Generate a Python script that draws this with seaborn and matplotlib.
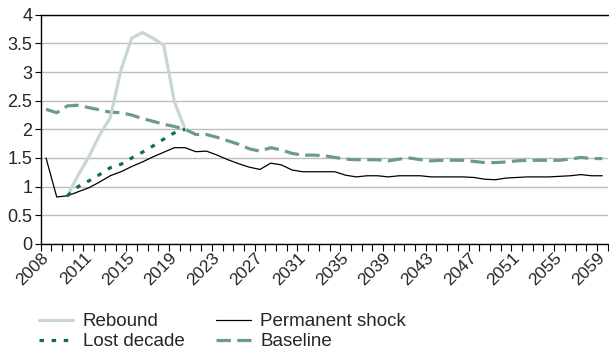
import numpy as np
import pandas as pd
import matplotlib
matplotlib.use("Agg")
import matplotlib.pyplot as plt
import seaborn as sns

# Category labels (every 4th position is labelled on the axis)
tick_labels = ["2008", "2011", "2015", "2019", "2023", "2027", "2031",
               "2035", "2039", "2043", "2047", "2051", "2055", "2059"]
n_points = 53

baseline = [2.35, 2.29, 2.41, 2.42, 2.38, 2.34, 2.30, 2.29, 2.25, 2.19,
            2.14, 2.09, 2.05, 2.00, 1.91, 1.91, 1.86, 1.80, 1.74, 1.66,
            1.62, 1.68, 1.64, 1.58, 1.55, 1.55, 1.54, 1.51, 1.48, 1.47,
            1.47, 1.47, 1.45, 1.48, 1.50, 1.47, 1.45, 1.46, 1.46, 1.46,
            1.44, 1.42, 1.42, 1.43, 1.45, 1.46, 1.46, 1.46, 1.46, 1.48,
            1.51, 1.49, 1.49]

permanent_shock = [1.50, 0.82, 0.84, 0.91, 0.98, 1.08, 1.19, 1.26, 1.35, 1.43,
                   1.52, 1.60, 1.68, 1.68, 1.61, 1.62, 1.55, 1.47, 1.40, 1.34,
                   1.30, 1.41, 1.38, 1.29, 1.26, 1.26, 1.26, 1.26, 1.20, 1.17,
                   1.19, 1.19, 1.17, 1.19, 1.19, 1.19, 1.17, 1.17, 1.17, 1.17,
                   1.16, 1.13, 1.12, 1.15, 1.16, 1.17, 1.17, 1.17, 1.18, 1.19,
                   1.21, 1.19, 1.19]

# Alternative scenarios run from position 2 until they rejoin the baseline
scenario_start = 2
rebound = [0.84, 1.20, 1.52, 1.90, 2.20, 3.03, 3.59, 3.69, 3.59, 3.47, 2.48, 2.00]
lost_decade = [0.84, 1.00, 1.10, 1.21, 1.33, 1.39, 1.50, 1.60, 1.71, 1.83, 1.94, 2.00]

x_all = np.arange(n_points)
x_scen = np.arange(scenario_start, scenario_start + len(rebound))

sns.set_theme(style="white")
plt.rcParams["font.family"] = ["Liberation Sans", "DejaVu Sans"]

fig = plt.figure(figsize=(6.09, 3.51), dpi=100)
ax = fig.add_axes([0.0668, 0.305, 0.931, 0.653])

ax.grid(axis="y", color="#bdbdbd", linewidth=1.0, zorder=0)
ax.set_axisbelow(True)

c_rebound = "#c9d7d1"
c_lost = "#0b6e55"
c_base = "#6b9c8b"

sns.lineplot(x=x_all, y=baseline, ax=ax, color=c_base, linewidth=2.3,
             linestyle=(0, (4.5, 2.0)), label="Baseline", zorder=3)
sns.lineplot(x=x_scen, y=rebound, ax=ax, color=c_rebound, linewidth=2.3,
             label="Rebound", zorder=4)
sns.lineplot(x=x_all, y=permanent_shock, ax=ax, color="black", linewidth=0.9,
             label="Permanent shock", zorder=5)
sns.lineplot(x=x_scen, y=lost_decade, ax=ax, color=c_lost, linewidth=2.3,
             linestyle=(0, (1.4, 2.4)), label="Lost decade", zorder=6)

ax.set_xlim(-0.5, n_points - 0.5)
ax.set_ylim(0, 4)
ax.set_yticks(np.arange(0, 4.01, 0.5))
ax.set_yticklabels([f"{v:g}" for v in np.arange(0, 4.01, 0.5)], fontsize=13)

# Category boundary ticks; year labels placed below every 4th category
ax.set_xticks(np.arange(-0.5, n_points, 1))
ax.set_xticklabels([])
ax.tick_params(axis="x", direction="out", length=5, width=0.8,
               color="black", bottom=True)
label_pos = np.arange(0, n_points, 4)
for pos, txt in zip(label_pos, tick_labels):
    ax.annotate(txt, xy=(pos, 0), xycoords=("data", "axes fraction"),
                xytext=(-5, -6), textcoords="offset pixels",
                rotation=45, ha="right", va="top", rotation_mode="anchor",
                fontsize=12.5, color="#262626", annotation_clip=False)

ax.tick_params(axis="y", direction="out", length=4, width=0.8,
               color="black", left=True, pad=2)

for side in ["left", "bottom", "top"]:
    ax.spines[side].set_visible(True)
    ax.spines[side].set_color("black")
    ax.spines[side].set_linewidth(1.0)
ax.spines["right"].set_visible(False)
ax.set_xlabel("")
ax.set_ylabel("")

handles, labels = ax.get_legend_handles_labels()
order = ["Rebound", "Lost decade", "Permanent shock", "Baseline"]
hmap = dict(zip(labels, handles))
ax.get_legend().remove()
fig.legend([hmap[k] for k in order], order, loc="lower left",
           bbox_to_anchor=(0.045, -0.03), ncol=2, frameon=False,
           fontsize=13.5, handlelength=1.85, handletextpad=0.5,
           columnspacing=1.7, labelspacing=0.15, borderaxespad=0.2)

fig.savefig("out.png", dpi=100)
